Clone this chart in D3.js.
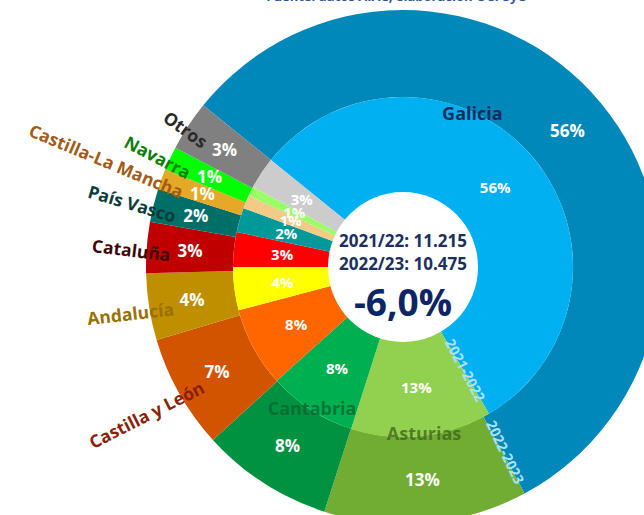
<!DOCTYPE html>
<html>
<head>
    <meta charset="utf-8" />
    <script src="https://cdn.jsdelivr.net/npm/d3@7"></script>
    <style>
        html, body { margin: 0; padding: 0; background: #fff; }
        svg { display: block; font-family: "Open Sans", "Noto Sans", sans-serif; }
    </style>
</head>
<body>
<svg width="644" height="515"></svg>
<script>
    // regions, clockwise from Galicia
    var regions = ['Galicia', 'Asturias', 'Cantabria', 'Castilla y León', 'Andalucía',
        'Cataluña', 'País Vasco', 'Castilla-La Mancha', 'Navarra', 'Otros'];
    var values2122 = [6250, 1500, 940, 850, 460, 370, 260, 145, 100, 340];
    var values2223 = [5900, 1340, 870, 750, 440, 335, 220, 135, 155, 330];
    var seasons = ['2021-2022', '2022-2023'];
    var totalLabels = ['2021/22: 11.215', '2022/23: 10.475'];
    var changeLabel = '-6,0%';
    var source = 'Fuente: datos AIAC, elaboración OCPSyO';

    var innerColors = ['#00b0f0', '#92d050', '#00b050', '#ff6600', '#ffff00',
        '#ff0000', '#009999', '#f2cb86', '#99ff66', '#cccccc'];
    var outerColors = ['#0088ba', '#70ad32', '#009240', '#d25400', '#bf8f00',
        '#c00000', '#006f68', '#e6a927', '#00ff00', '#808080'];
    var nameColors = ['#102c5c', '#40601b', '#03652f', '#8c1f0c', '#9a7000',
        '#3d0808', '#0d3c3b', '#a35b17', '#0a7f0a', '#2a2a2a'];

    var cx = 403, cy = 267;
    var r0 = 73, r1 = 170, r2 = 257;
    var start = -51 * Math.PI / 180;
    var deg = 180 / Math.PI;

    var svg = d3.select('svg');

    svg.append('text')
        .attr('x', 397).attr('y', 1)
        .attr('text-anchor', 'middle')
        .style('font-size', '13px').style('font-weight', 700)
        .style('fill', '#2f5597')
        .text(source);

    var pie = d3.pie().sort(null).startAngle(start).endAngle(start + 2 * Math.PI);
    var innerArcs = pie(values2122);
    var outerArcs = pie(values2223);

    var arcIn = d3.arc().innerRadius(r0).outerRadius(r1);
    var arcOut = d3.arc().innerRadius(r1).outerRadius(r2);

    var g = svg.append('g').attr('transform', 'translate(' + cx + ',' + cy + ')');

    g.selectAll('path.out')
        .data(outerArcs)
        .enter().append('path')
        .attr('class', 'out')
        .attr('d', arcOut)
        .attr('fill', function (d, i) { return outerColors[i]; });

    g.selectAll('path.in')
        .data(innerArcs)
        .enter().append('path')
        .attr('class', 'in')
        .attr('d', arcIn)
        .attr('fill', function (d, i) { return innerColors[i]; });

    function pct(d, arr) {
        return Math.round(d.value / d3.sum(arr) * 100) + '%';
    }

    g.selectAll('text.pout')
        .data(outerArcs)
        .enter().append('text')
        .attr('class', 'pout')
        .attr('transform', function (d) { return 'translate(' + arcOut.centroid(d) + ')'; })
        .attr('text-anchor', 'middle')
        .attr('dy', '0.35em')
        .style('font-size', '17px').style('font-weight', 700).style('fill', '#fff')
        .text(function (d) { return pct(d, values2223); });

    g.selectAll('text.pin')
        .data(innerArcs)
        .enter().append('text')
        .attr('class', 'pin')
        .attr('transform', function (d) { return 'translate(' + arcIn.centroid(d) + ')'; })
        .attr('text-anchor', 'middle')
        .attr('dy', '0.35em')
        .style('font-size', '15px').style('font-weight', 700).style('fill', '#fff')
        .text(function (d) { return pct(d, values2122); });

    // region names: big three on the ring seam, the rest outside along the radius
    var inside = { 'Galicia': -26, 'Asturias': -2, 'Cantabria': 0 };

    function polar(r, a) {
        return [r * Math.sin(a), -r * Math.cos(a)];
    }

    outerArcs.forEach(function (d, i) {
        var name = regions[i];
        var mid = (d.startAngle + d.endAngle) / 2;
        var t = g.append('text')
            .style('font-size', '17.5px').style('font-weight', 700)
            .style('fill', nameColors[i])
            .attr('dy', '0.35em')
            .text(name);
        if (name in inside) {
            var p = polar(168, mid + inside[name] / deg);
            t.attr('text-anchor', 'middle')
                .attr('transform', 'translate(' + p + ')')
                .style('font-size', '18px')
                .style('fill-opacity', name === 'Galicia' ? 1 : 0.75);
        } else {
            var p2 = polar(233, mid - 1.5 / deg);
            var rot = mid * deg - 360 + 90 + 2.5;
            t.attr('text-anchor', 'end')
                .attr('transform', 'translate(' + p2 + ') rotate(' + rot + ')');
        }
    });

    // season labels along the Galicia edge of each ring
    [[innerArcs[0], (r0 + r1) / 2 - 1], [outerArcs[0], (r1 + r2) / 2 - 2]].forEach(function (s, i) {
        var a = s[0].endAngle - 0.6 / deg;
        var p = polar(s[1], a);
        g.append('text')
            .attr('transform', 'translate(' + p + ') rotate(' + (a * deg - 90 + 3) + ')')
            .attr('text-anchor', 'middle')
            .attr('dy', '0.35em')
            .style('font-size', '14px').style('font-weight', 700)
            .style('fill', '#a9e2fb')
            .text(seasons[i]);
    });

    // centre
    g.append('circle').attr('r', r0 + 2).attr('fill', '#fff');

    g.selectAll('text.tot')
        .data(totalLabels)
        .enter().append('text')
        .attr('class', 'tot')
        .attr('text-anchor', 'middle')
        .attr('y', function (d, i) { return -26 + i * 23; })
        .attr('dy', '0.35em')
        .style('font-size', '17px').style('font-weight', 700)
        .style('fill', '#1c2f62')
        .text(function (d) { return d; });

    g.append('text')
        .attr('text-anchor', 'middle')
        .attr('y', 36)
        .attr('dy', '0.35em')
        .style('font-size', '37px').style('font-weight', 700)
        .style('fill', '#0c2566')
        .text(changeLabel);
</script>
</body>
</html>
